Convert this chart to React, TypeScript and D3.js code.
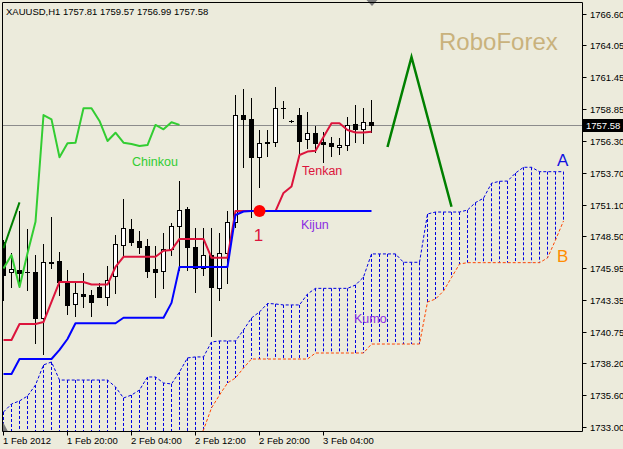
import React from "react";
import * as d3 from "d3";

// ---------- data ----------
const header = "XAUUSD,H1  1757.81 1759.57 1756.99 1757.58";

const open = [1748.05,1745.61,1745.77,1745.65,1745.61,1741.87,1746.42,1746.51,1744.72,1743.01,1743.86,1743.74,1744.39,1743.58,1745.29,1747.81,1749.11,1748.13,1747.73,1745.85,1745.69,1747.48,1749.35,1750.74,1747.64,1745.90,1746.99,1744.31,1747.13,1749.70,1758.38,1758.03,1754.94,1756.16,1756.16,1758.93,1757.90,1758.38,1756.41,1756.94,1756.21,1756.08,1755.76,1755.94,1757.65,1757.22,1757.81];
const high = [1748.21,1747.16,1750.57,1749.11,1746.99,1747.89,1750.09,1747.24,1745.77,1744.72,1745.53,1744.15,1744.72,1746.10,1748.62,1751.55,1749.92,1748.95,1748.30,1747.73,1748.78,1749.60,1753.01,1750.90,1749.19,1749.19,1749.19,1748.78,1750.57,1760.01,1760.47,1759.74,1757.16,1757.16,1760.69,1759.55,1757.94,1758.93,1758.60,1757.49,1757.03,1756.57,1756.49,1758.20,1759.20,1758.93,1759.57];
const low = [1743.33,1744.39,1744.39,1744.15,1739.83,1738.94,1745.94,1743.74,1742.19,1742.03,1742.76,1742.03,1743.54,1742.93,1743.90,1746.83,1747.81,1747.16,1745.20,1743.58,1744.31,1746.99,1745.77,1745.77,1743.98,1745.37,1740.40,1743.33,1744.72,1749.30,1754.15,1750.11,1752.50,1755.05,1755.89,1758.11,1757.85,1755.13,1755.67,1755.40,1754.58,1755.05,1755.21,1755.54,1756.21,1756.13,1756.99];
const close = [1745.37,1745.85,1745.53,1745.57,1741.87,1746.42,1746.38,1744.80,1742.93,1743.90,1743.66,1743.17,1743.58,1744.96,1747.89,1749.19,1748.05,1747.64,1745.69,1745.61,1747.48,1749.35,1750.65,1747.64,1745.90,1746.99,1744.39,1747.13,1749.70,1758.38,1758.03,1754.94,1756.08,1756.13,1758.93,1758.93,1757.90,1756.27,1756.94,1756.13,1756.02,1755.86,1755.94,1757.57,1757.22,1757.79,1757.58];

const tenkan = [1740.08,1740.08,1741.38,1741.38,1741.38,1741.54,1743.17,1744.80,1744.80,1744.80,1744.80,1744.59,1744.59,1744.59,1746.02,1746.85,1746.85,1746.85,1746.85,1746.85,1747.34,1747.40,1748.30,1748.30,1748.30,1748.30,1746.77,1746.77,1746.77,1750.57,1750.57,1750.57,1750.57,1750.57,1750.57,1752.04,1752.57,1755.13,1755.41,1755.48,1756.59,1757.71,1757.71,1757.16,1756.96,1756.96,1757.03];
const kijun = [1737.31,1737.31,1738.53,1738.53,1738.53,1738.53,1738.53,1739.27,1740.16,1741.44,1741.44,1741.44,1741.44,1741.44,1741.44,1741.89,1741.89,1741.89,1741.89,1741.89,1741.89,1743.10,1746.02,1746.02,1746.02,1746.02,1746.02,1746.02,1746.02,1750.25,1750.53,1750.57,1750.57,1750.57,1750.57,1750.57,1750.57,1750.57,1750.57,1750.57,1750.57,1750.57,1750.57,1750.57,1750.57,1750.57,1750.57];

const senkouA = [1734.22,1734.87,1735.12,1735.52,1736.42,1738.05,1738.29,1736.82,1736.82,1736.82,1736.82,1736.82,1736.82,1736.82,1736.26,1735.36,1735.60,1736.01,1737.07,1737.07,1736.58,1736.50,1737.48,1738.62,1738.70,1738.70,1739.92,1740.00,1740.00,1740.00,1740.89,1741.87,1742.36,1743.05,1743.01,1742.93,1742.93,1742.93,1743.82,1744.28,1744.28,1744.28,1744.28,1744.28,1744.55,1745.20,1747.08,1747.08,1747.08,1747.08,1746.40,1746.40,1746.40,1750.33,1750.49,1750.49,1750.49,1750.49,1750.65,1751.26,1751.61,1752.83,1752.99,1753.01,1753.66,1754.13,1754.13,1753.77,1753.77,1753.77,1753.77];
const senkouB = [1727.90,1727.90,1727.90,1727.90,1727.90,1727.90,1727.90,1727.90,1727.90,1727.90,1727.90,1727.90,1727.90,1727.90,1727.90,1727.90,1727.90,1727.90,1727.90,1728.40,1729.00,1729.60,1730.30,1731.00,1731.80,1732.76,1734.55,1735.60,1736.58,1736.99,1737.80,1738.53,1738.53,1738.53,1738.53,1738.53,1738.53,1738.53,1738.53,1739.02,1739.02,1739.02,1739.02,1739.02,1739.02,1739.02,1739.75,1739.75,1739.75,1739.75,1739.75,1739.75,1739.75,1743.17,1743.41,1744.06,1745.16,1746.26,1746.37,1746.37,1746.37,1746.37,1746.37,1746.37,1746.37,1746.37,1746.37,1746.37,1746.75,1748.21,1749.76];

const CHINKOU_SHIFT = 24;
const chinkou = close.slice(CHINKOU_SHIFT);

const priceTicks = [1766.60,1764.05,1761.45,1758.85,1756.30,1753.70,1751.10,1748.50,1745.95,1743.35,1740.75,1738.20,1735.60,1733.00];
const timeTickBars = [0, 8, 16, 24, 32, 40];
const timeTickLabels = ["1 Feb 2012", "1 Feb 20:00", "2 Feb 04:00", "2 Feb 12:00", "2 Feb 20:00", "3 Feb 04:00"];

const forecastBars = [48, 51, 56];
const forecastPrices = [1755.78, 1763.10, 1750.92];
const oldTrendBars = [0, 2];
const oldTrendPrices = [1747.54, 1751.28];
const lastPrice = 1757.58;
const crossBar = 32;
const crossPrice = 1750.57;

// ---------- styles ----------
const BG = "#ECEBDC";
const FONT = "'Liberation Sans', Arial, sans-serif";

export default function App() {
  const x = d3.scaleLinear().domain([0, 72]).range([3.5, 579.5]);
  const y = d3.scaleLinear().domain([1733.0, 1766.6]).range([427, 14]);

  const lineGen = (vals: number[], bars?: number[]) =>
    d3
      .line<number>()
      .x((_, i) => x(bars ? bars[i] : i))
      .y((v) => y(v))(vals) || "";

  const plotL = 2.5, plotR = 582.5, plotT = 2.5, plotB = 431.5;

  return (
    <svg
      width={623}
      height={449}
      style={{ position: "absolute", left: 0, top: 0, display: "block" }}
      fontFamily={FONT}
    >
      <rect width={623} height={449} fill={BG} />
      <defs>
        <clipPath id="plotclip">
          <rect x={3} y={3} width={579} height={428} />
        </clipPath>
      </defs>

      <g clipPath="url(#plotclip)">
        {/* Kumo hatching */}
        {senkouA.map((a, i) => (
          <line
            key={"h" + i}
            x1={x(i)}
            x2={x(i)}
            y1={y(a)}
            y2={y(senkouB[i])}
            stroke="#0000E0"
            strokeWidth={1}
            strokeDasharray="3,2"
          />
        ))}
        <path d={lineGen(senkouA)} fill="none" stroke="#0000E0" strokeWidth={1} strokeDasharray="3,2" />
        <path d={lineGen(senkouB)} fill="none" stroke="#FF4500" strokeWidth={1} strokeDasharray="3,2" />

        {/* bottom-left marker */}
        <polygon points="3,422 3,431.5 8,431.5" fill="#7a7a7a" />

        {/* bid line */}
        <line x1={plotL} x2={plotR} y1={Math.round(y(lastPrice)) + 0.5} y2={Math.round(y(lastPrice)) + 0.5} stroke="#8c8c8c" strokeWidth={1} />

        {/* candles */}
        {open.map((o, i) => {
          const cx = x(i);
          const yo = y(o), yc = y(close[i]);
          const top = Math.round(Math.min(yo, yc));
          const bot = Math.round(Math.max(yo, yc));
          const bull = close[i] > o;
          return (
            <g key={"c" + i}>
              <line x1={cx} x2={cx} y1={Math.round(y(high[i]))} y2={Math.round(y(low[i])) + 1} stroke="#000" strokeWidth={1} />
              {bot - top < 1 ? (
                <line x1={cx - 2.5} x2={cx + 2.5} y1={top + 0.5} y2={top + 0.5} stroke="#000" strokeWidth={1} />
              ) : bull ? (
                <rect x={cx - 2} y={top + 0.5} width={4} height={bot - top} fill="#fff" stroke="#000" strokeWidth={1} />
              ) : (
                <rect x={cx - 2.5} y={top} width={5} height={bot - top + 1} fill="#000" />
              )}
            </g>
          );
        })}

        {/* Chinkou */}
        <path d={lineGen(chinkou)} fill="none" stroke="#32CD32" strokeWidth={2} strokeLinejoin="round" />
        {/* Tenkan */}
        <path d={lineGen(tenkan)} fill="none" stroke="#DC143C" strokeWidth={2} strokeLinejoin="round" />
        {/* Kijun */}
        <path d={lineGen(kijun)} fill="none" stroke="#0000FF" strokeWidth={2} strokeLinejoin="round" />

        {/* trend lines */}
        <path d={lineGen(oldTrendPrices, oldTrendBars)} fill="none" stroke="#008000" strokeWidth={2} />
        <path d={lineGen(forecastPrices, forecastBars)} fill="none" stroke="#008000" strokeWidth={2.5} strokeLinejoin="miter" />

        {/* cross dot */}
        <circle cx={x(crossBar)} cy={y(crossPrice)} r={6} fill="#FF0000" />

        {/* labels */}
        <text x={439} y={50} fontSize={24} fill="#C9B27C">RoboForex</text>
        <text x={132} y={165.5} fontSize={12.5} fill="#32CD32">Chinkou</text>
        <text x={302} y={175} fontSize={12.5} fill="#DC143C">Tenkan</text>
        <text x={301} y={229} fontSize={12.5} fill="#8A2BE2">Kijun</text>
        <text x={354} y={323} fontSize={12.5} fill="#8A2BE2">Kumo</text>
        <text x={557} y={166} fontSize={17} fill="#1010E0">A</text>
        <text x={557} y={261.5} fontSize={17} fill="#FF8C00">B</text>
        <text x={258.5} y={241} fontSize={17} fill="#DC143C" textAnchor="middle">1</text>
      </g>

      {/* header */}
      <text x={6} y={15} fontSize={9.5} fill="#000">{header}</text>

      {/* chart-shift marker */}
      <polygon points="366.5,0 377.5,0 372,6" fill="#7a7a7a" />

      {/* frame */}
      <path d={`M${plotL},${plotT} H${plotR} V${plotB} H${plotL} Z`} fill="none" stroke="#000" strokeWidth={1} />

      {/* price axis */}
      {priceTicks.map((p) => {
        const yy = Math.round(y(p)) + 0.5;
        return (
          <g key={"p" + p}>
            <line x1={plotR} x2={plotR + 4} y1={yy} y2={yy} stroke="#000" />
            <text x={590} y={yy + 3.5} fontSize={9.5} fill="#000">{p.toFixed(2)}</text>
          </g>
        );
      })}
      <rect x={583} y={Math.round(y(lastPrice)) - 6} width={40} height={13} fill="#000" />
      <text x={586} y={Math.round(y(lastPrice)) + 4} fontSize={9.5} fill="#fff">{lastPrice.toFixed(2)}</text>

      {/* time axis */}
      {timeTickBars.map((b, i) => {
        const xx = Math.round(x(b)) - 0.5;
        return (
          <g key={"t" + b}>
            <line x1={xx} x2={xx} y1={plotB} y2={plotB + 4} stroke="#000" />
            <text x={xx - 0.5} y={444} fontSize={9.5} fill="#000">{timeTickLabels[i]}</text>
          </g>
        );
      })}
    </svg>
  );
}
